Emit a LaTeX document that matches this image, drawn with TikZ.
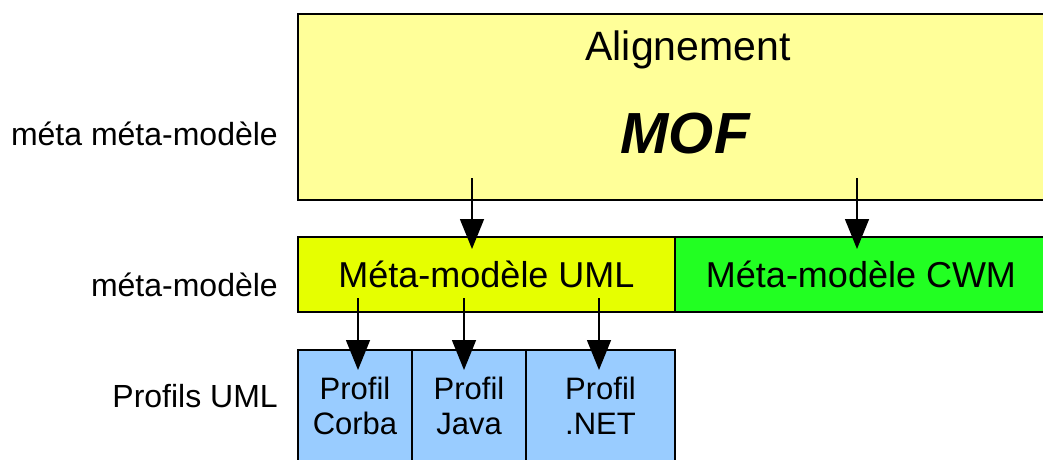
\documentclass[tikz,border=0pt]{standalone}
\usepackage{fontspec}
\setmainfont{Liberation Sans}
\usetikzlibrary{positioning, arrows.meta}
\definecolor{mofyellow}{HTML}{FFFF99}
\definecolor{umlyellow}{HTML}{E6FF00}
\definecolor{cwmgreen}{HTML}{22FF22}
\definecolor{profblue}{HTML}{99CCFF}

\begin{document}
\begin{tikzpicture}[x=1pt, y=-1pt, every node/.style={inner sep=0pt},
  box/.style={draw, rectangle, line width=1.3pt, outer sep=0pt},
  fleche/.style={-{Triangle[length=30pt, width=24pt]}, line width=1.5pt},
  niveau/.style={anchor=base east, font=\fontsize{32}{38}\selectfont}]
\clip (0,0) rectangle (1043,459);

% niveau meta meta-modele
\node (mof) [box, anchor=north west, fill=mofyellow, minimum width=778pt,
minimum height=186pt] at (298,14) {};
\node (align) [anchor=base, font=\fontsize{41}{48}\selectfont] at (688,60) {Alignement};
\node (moftxt) [anchor=base, font=\fontsize{58}{70}\selectfont\bfseries\itshape]
at (685,153) {MOF};

% niveau meta-modele
\node (uml) [box, below=37pt of mof.south west, anchor=north west, fill=umlyellow,
minimum width=377pt, minimum height=75pt, font=\fontsize{36}{42}\selectfont]
{Méta-modèle UML};
\node (cwm) [box, right=0pt of uml.north east, anchor=north west, fill=cwmgreen,
minimum width=372pt, minimum height=75pt, font=\fontsize{36}{42}\selectfont]
{Méta-modèle CWM};

% profils
\node (corba) [box, below=38pt of uml.south west, anchor=north west, fill=profblue,
minimum width=114pt, minimum height=112pt, align=center,
font=\fontsize{31}{35}\selectfont] {Profil\\Corba};
\node (java) [box, right=0pt of corba.north east, anchor=north west, fill=profblue,
minimum width=114pt, minimum height=112pt, align=center,
font=\fontsize{31}{35}\selectfont] {Profil\\Java};
\node (net) [box, right=0pt of java.north east, anchor=north west, fill=profblue,
minimum width=149pt, minimum height=112pt, align=center,
font=\fontsize{31}{35}\selectfont] {Profil\\.NET};

% etiquettes des niveaux
\node (lmm) [niveau] at (278,145) {méta méta-modèle};
\node (lm) [niveau] at (278,296) {méta-modèle};
\node (lp) [niveau] at (278,407) {Profils UML};

% fleches
\coordinate (d1) at (472,178);
\coordinate (d2) at (857,178);
\coordinate (d3) at (358,298);
\coordinate (d4) at (464,298);
\coordinate (d5) at (599,298);
\draw[fleche] (d1) -- ([yshift=-12pt]d1 |- uml.north);
\draw[fleche] (d2) -- ([yshift=-12pt]d2 |- cwm.north);
\draw[fleche] (d3) -- ([yshift=-20pt]d3 |- corba.north);
\draw[fleche] (d4) -- ([yshift=-20pt]d4 |- java.north);
\draw[fleche] (d5) -- ([yshift=-20pt]d5 |- net.north);
\end{tikzpicture}
\end{document}
